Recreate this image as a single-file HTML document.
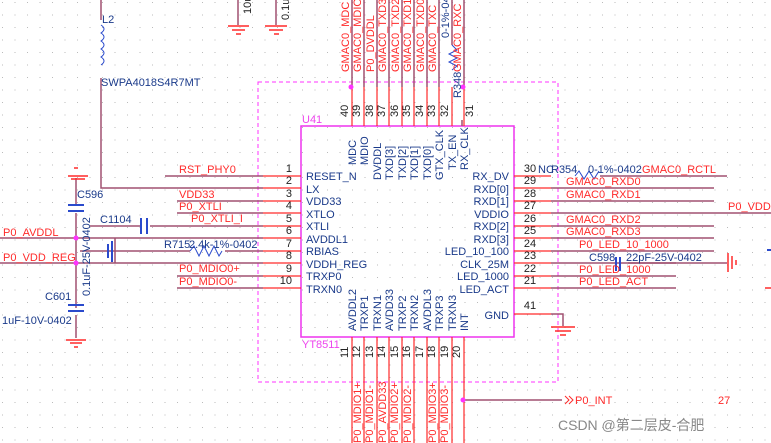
<!DOCTYPE html>
<html><head><meta charset="utf-8"><style>
html,body{margin:0;padding:0;background:#fff;}
svg{display:block;font-family:"Liberation Sans","Noto Sans CJK SC",sans-serif;}
.r{fill:#ff2a2a;font-size:11px}
.b{fill:#1a3a8a;font-size:11px}
.k{fill:#222;font-size:11px}
</style></head><body>
<svg width="771" height="443" viewBox="0 0 771 443" xmlns="http://www.w3.org/2000/svg">
<defs><pattern id="g" width="12.5" height="12.5" patternUnits="userSpaceOnUse" x="2" y="2"><rect width="1" height="1" fill="#bbb"/></pattern></defs>
<rect width="771" height="443" fill="#fff"/>
<rect width="771" height="443" fill="url(#g)"/>
<!-- dashed box -->
<rect x="258" y="82" width="300" height="300" fill="none" stroke="#ff33ff" stroke-dasharray="4,3"/>
<!-- chip -->
<rect x="301" y="126" width="213" height="211" fill="none" stroke="#ee33ee" stroke-width="1.5"/>
<text x="302" y="123" fill="#ee44ee" font-size="11">U41</text>
<text x="302" y="348" fill="#ee44ee" font-size="11">YT8511</text>
<!-- left pins -->
<g stroke="#ff2a2a" stroke-width="1.2">
<line x1="263" y1="176" x2="301" y2="176"/><line x1="263" y1="188" x2="301" y2="188"/><line x1="263" y1="201" x2="301" y2="201"/><line x1="263" y1="213" x2="301" y2="213"/><line x1="263" y1="226" x2="301" y2="226"/><line x1="263" y1="238" x2="301" y2="238"/><line x1="263" y1="251" x2="301" y2="251"/><line x1="263" y1="263" x2="301" y2="263"/><line x1="263" y1="276" x2="301" y2="276"/><line x1="263" y1="288" x2="301" y2="288"/>
</g>
<g stroke="#a05070" stroke-width="1.5" fill="none">
<line x1="165" y1="176" x2="263" y2="176"/>
<polyline points="101,0 101,20"/>
<polyline points="101,78 101,188 263,188"/>
<line x1="177" y1="201" x2="263" y2="201"/><line x1="177" y1="213" x2="263" y2="213"/>
<line x1="90" y1="226" x2="140" y2="226"/><line x1="150" y1="226" x2="263" y2="226"/>
<line x1="0" y1="238" x2="263" y2="238"/>
<line x1="80" y1="251" x2="190" y2="251"/><line x1="225" y1="251" x2="263" y2="251"/>
<line x1="0" y1="263" x2="263" y2="263"/>
<line x1="115" y1="238" x2="115" y2="263"/>
<line x1="177" y1="276" x2="263" y2="276"/><line x1="177" y1="288" x2="263" y2="288"/>
<line x1="76" y1="178" x2="76" y2="205"/><line x1="76" y1="213" x2="76" y2="308"/><line x1="76" y1="315" x2="76" y2="338"/>
</g>
<!-- inductor -->
<path d="M101,25 q6,4 0,8 q6,4 0,8 q6,4 0,8 q6,4 0,8 q6,4 0,8" fill="none" stroke="#2a4acc"/>
<text x="102" y="23" class="b">L2</text>
<text x="101" y="86" class="b">SWPA4018S4R7MT</text>
<!-- caps -->
<g stroke="#2a4acc" stroke-width="2"><line x1="68" y1="205" x2="84" y2="205"/><line x1="68" y1="211" x2="84" y2="211"/>
<line x1="68" y1="305" x2="84" y2="305"/><line x1="68" y1="311" x2="84" y2="311"/>
<line x1="141" y1="218" x2="141" y2="234"/><line x1="147" y1="218" x2="147" y2="234"/>
<line x1="108" y1="244" x2="108" y2="258"/><line x1="112" y1="241" x2="112" y2="262"/></g>
<g stroke="#ff2a2a" stroke-width="1.5"><line x1="68" y1="176" x2="88" y2="176"/><line x1="71" y1="179" x2="85" y2="179"/><line x1="74" y1="168" x2="78" y2="168"/>
<line x1="66" y1="340" x2="86" y2="340"/><line x1="70" y1="343" x2="82" y2="343"/><line x1="74" y1="347" x2="78" y2="347"/></g>
<circle cx="76" cy="238" r="2.5" fill="#ff33ff"/><circle cx="76" cy="263" r="2.5" fill="#ff33ff"/>
<text x="77" y="198" class="b">C596</text>
<text x="100" y="223" class="b">C1104</text>
<text x="45" y="300" class="b">C601</text>
<text x="2" y="324" class="b">1uF-10V-0402</text>
<text transform="translate(90,296) rotate(-90)" class="b">0.1uF-25V-0402</text>
<text x="3" y="236" class="r">P0_AVDDL</text>
<text x="3" y="261" class="r">P0_VDD_REG</text>
<text x="179" y="173" class="r">RST_PHY0</text>
<text x="179" y="198" class="r">VDD33</text>
<text x="179" y="210" class="r">P0_XTLI</text>
<text x="191" y="222" class="r">P0_XTLI_I</text>
<text x="179" y="272" class="r">P0_MDIO0+</text>
<text x="179" y="285" class="r">P0_MDIO0-</text>
<path d="M190,251 l4,-5 l5,10 l5,-10 l5,10 l5,-10 l5,10 l3,-5" fill="none" stroke="#2a4acc"/>
<text x="164" y="248" class="b">R715</text><text x="189" y="248" class="b">2.4k-1%-0402</text>
<g class="k" text-anchor="end"><text x="292" y="172">1</text><text x="292" y="184">2</text><text x="292" y="197">3</text><text x="292" y="209">4</text><text x="292" y="222">5</text><text x="292" y="234">6</text><text x="292" y="247">7</text><text x="292" y="259">8</text><text x="292" y="272">9</text><text x="292" y="284">10</text></g>
<g class="b"><text x="306" y="180">RESET_N</text><text x="306" y="193">LX</text><text x="306" y="205">VDD33</text><text x="306" y="218">XTLO</text><text x="306" y="230">XTLI</text><text x="306" y="243">AVDDL1</text><text x="306" y="255">RBIAS</text><text x="306" y="268">VDDH_REG</text><text x="306" y="280">TRXP0</text><text x="306" y="293">TRXN0</text></g>
<!-- right side -->
<g class="b" text-anchor="end"><text x="509" y="180">RX_DV</text><text x="509" y="193">RXD[0]</text><text x="509" y="205">RXD[1]</text><text x="509" y="218">VDDIO</text><text x="509" y="230">RXD[2]</text><text x="509" y="243">RXD[3]</text><text x="509" y="255">LED_10_100</text><text x="509" y="268">CLK_25M</text><text x="509" y="280">LED_1000</text><text x="509" y="293">LED_ACT</text><text x="509" y="319">GND</text></g>
<g stroke="#ff2a2a" stroke-width="1.2"><line x1="514" y1="176" x2="551" y2="176"/><line x1="514" y1="188" x2="551" y2="188"/><line x1="514" y1="201" x2="551" y2="201"/><line x1="514" y1="213" x2="551" y2="213"/><line x1="514" y1="226" x2="551" y2="226"/><line x1="514" y1="238" x2="551" y2="238"/><line x1="514" y1="251" x2="551" y2="251"/><line x1="514" y1="263" x2="551" y2="263"/><line x1="514" y1="276" x2="551" y2="276"/><line x1="514" y1="288" x2="551" y2="288"/><line x1="514" y1="314" x2="551" y2="314"/></g>
<g stroke="#a05070" stroke-width="1.5" fill="none"><line x1="600" y1="176" x2="727" y2="176"/><line x1="551" y1="188" x2="714" y2="188"/><line x1="551" y1="201" x2="714" y2="201"/><line x1="551" y1="213" x2="771" y2="213"/><line x1="551" y1="226" x2="714" y2="226"/><line x1="551" y1="238" x2="714" y2="238"/><line x1="551" y1="251" x2="714" y2="251"/><line x1="551" y1="263" x2="676" y2="263"/><line x1="551" y1="276" x2="676" y2="276"/><line x1="551" y1="288" x2="676" y2="288"/>
<line x1="628" y1="263" x2="727" y2="263"/><polyline points="551,314 563,314 563,326"/><line x1="462" y1="120" x2="462" y2="126"/></g>
<g stroke="#ff2a2a" stroke-width="1.5"><line x1="551" y1="327" x2="575" y2="327"/><line x1="555" y1="331" x2="571" y2="331"/><line x1="560" y1="335" x2="566" y2="335"/><line x1="728" y1="253" x2="728" y2="272"/><line x1="732" y1="256" x2="732" y2="269"/><line x1="736" y1="260" x2="736" y2="265"/><line x1="765" y1="288" x2="771" y2="288"/></g>
<g stroke="#2a4acc" stroke-width="2"><line x1="616" y1="257" x2="616" y2="271"/><line x1="620" y1="257" x2="620" y2="271"/><line x1="767" y1="250" x2="771" y2="250"/></g>
<path d="M575,176 l4,-5 l5,8 l5,-8 l5,8 l5,-8" fill="none" stroke="#2a4acc"/>
<g class="k" text-anchor="middle"><text x="530" y="172">30</text><text x="530" y="184">29</text><text x="530" y="197">28</text><text x="530" y="209">27</text><text x="530" y="222">26</text><text x="530" y="234">25</text><text x="530" y="247">24</text><text x="530" y="259">23</text><text x="530" y="272">22</text><text x="530" y="284">21</text><text x="530" y="309">41</text></g>
<text x="538" y="173" class="b" font-size="9">NC</text><text x="551" y="173" class="b">R354</text><text x="588" y="173" class="b">0-1%-0402</text>
<text x="642" y="173" class="r">GMAC0_RCTL</text>
<text x="566" y="185" class="r">GMAC0_RXD0</text><text x="566" y="198" class="r">GMAC0_RXD1</text>
<text x="728" y="210" class="r">P0_VDD</text>
<text x="566" y="223" class="r">GMAC0_RXD2</text><text x="566" y="235" class="r">GMAC0_RXD3</text>
<text x="579" y="248" class="r">P0_LED_10_1000</text>
<text x="589" y="261" class="b">C598</text><text x="626" y="261" class="b">22pF-25V-0402</text>
<text x="579" y="273" class="r">P0_LED_1000</text><text x="579" y="285" class="r">P0_LED_ACT</text>
<!-- top pins -->
<g stroke="#ff2a2a" stroke-width="1.2"><line x1="352" y1="87" x2="352" y2="126"/><line x1="364" y1="87" x2="364" y2="126"/><line x1="377" y1="87" x2="377" y2="126"/><line x1="389" y1="87" x2="389" y2="126"/><line x1="402" y1="87" x2="402" y2="126"/><line x1="414" y1="87" x2="414" y2="126"/><line x1="427" y1="87" x2="427" y2="126"/><line x1="439" y1="87" x2="439" y2="126"/><line x1="452" y1="87" x2="452" y2="126"/><line x1="464" y1="87" x2="464" y2="126"/></g>
<g stroke="#a05070" stroke-width="1.5"><line x1="352" y1="0" x2="352" y2="87"/><line x1="364" y1="0" x2="364" y2="87"/><line x1="377" y1="0" x2="377" y2="87"/><line x1="389" y1="0" x2="389" y2="87"/><line x1="402" y1="0" x2="402" y2="87"/><line x1="414" y1="0" x2="414" y2="87"/><line x1="427" y1="0" x2="427" y2="87"/><line x1="439" y1="0" x2="439" y2="87"/><line x1="452" y1="0" x2="452" y2="45"/><line x1="464" y1="0" x2="464" y2="87"/></g>
<path d="M452,45 l5,5 l-8,4 l8,4 l-8,4 l8,4 l-5,4" fill="none" stroke="#2a4acc"/>
<circle cx="351" cy="87" r="2.5" fill="#ff33ff"/><circle cx="463" cy="87" r="2.5" fill="#ff33ff"/>
<g class="r"><text transform="translate(349,72) rotate(-90)">GMAC0_MDC</text><text transform="translate(361,72) rotate(-90)">GMAC0_MDIO</text><text transform="translate(374,72) rotate(-90)">P0_DVDDL</text><text transform="translate(386,72) rotate(-90)">GMAC0_TXD3</text><text transform="translate(399,72) rotate(-90)">GMAC0_TXD2</text><text transform="translate(411,72) rotate(-90)">GMAC0_TXD1</text><text transform="translate(424,72) rotate(-90)">GMAC0_TXD0</text><text transform="translate(436,72) rotate(-90)">GMAC0_TXC</text><text transform="translate(461,72) rotate(-90)">GMAC0_RXC</text></g>
<text transform="translate(449,38) rotate(-90)" class="b">0-1%-04</text>
<text transform="translate(461,98) rotate(-90)" class="b">R348</text>
<g class="k"><text transform="translate(348,117) rotate(-90)">40</text><text transform="translate(360,117) rotate(-90)">39</text><text transform="translate(373,117) rotate(-90)">38</text><text transform="translate(385,117) rotate(-90)">37</text><text transform="translate(398,117) rotate(-90)">36</text><text transform="translate(410,117) rotate(-90)">35</text><text transform="translate(423,117) rotate(-90)">34</text><text transform="translate(435,117) rotate(-90)">33</text><text transform="translate(448,117) rotate(-90)">32</text><text transform="translate(473,117) rotate(-90)">31</text></g>
<g class="b"><text transform="translate(356,165) rotate(-90)">MDC</text><text transform="translate(368,165) rotate(-90)">MDIO</text><text transform="translate(381,180) rotate(-90)">DVDDL</text><text transform="translate(393,180) rotate(-90)">TXD[3]</text><text transform="translate(406,180) rotate(-90)">TXD[2]</text><text transform="translate(418,180) rotate(-90)">TXD[1]</text><text transform="translate(431,180) rotate(-90)">TXD[0]</text><text transform="translate(443,180) rotate(-90)">GTX_CLK</text><text transform="translate(456,170) rotate(-90)">TX_EN</text><text transform="translate(468,170) rotate(-90)">RX_CLK</text></g>
<!-- bottom pins -->
<g class="b"><text transform="translate(356,331) rotate(-90)">AVDDL2</text><text transform="translate(368,331) rotate(-90)">TRXP1</text><text transform="translate(381,331) rotate(-90)">TRXN1</text><text transform="translate(393,331) rotate(-90)">AVDD33</text><text transform="translate(406,331) rotate(-90)">TRXP2</text><text transform="translate(418,331) rotate(-90)">TRXN2</text><text transform="translate(431,331) rotate(-90)">AVDDL3</text><text transform="translate(443,331) rotate(-90)">TRXP3</text><text transform="translate(456,331) rotate(-90)">TRXN3</text><text transform="translate(468,331) rotate(-90)">INT</text></g>
<g stroke="#ff2a2a" stroke-width="1.2"><line x1="352" y1="337" x2="352" y2="443"/><line x1="364" y1="337" x2="364" y2="443"/><line x1="377" y1="337" x2="377" y2="443"/><line x1="389" y1="337" x2="389" y2="443"/><line x1="402" y1="337" x2="402" y2="443"/><line x1="414" y1="337" x2="414" y2="443"/><line x1="427" y1="337" x2="427" y2="443"/><line x1="439" y1="337" x2="439" y2="443"/><line x1="452" y1="337" x2="452" y2="443"/><line x1="464" y1="337" x2="464" y2="443"/></g>
<g class="k"><text transform="translate(348,358) rotate(-90)">11</text><text transform="translate(360,358) rotate(-90)">12</text><text transform="translate(373,358) rotate(-90)">13</text><text transform="translate(385,358) rotate(-90)">14</text><text transform="translate(398,358) rotate(-90)">15</text><text transform="translate(410,358) rotate(-90)">16</text><text transform="translate(423,358) rotate(-90)">17</text><text transform="translate(435,358) rotate(-90)">18</text><text transform="translate(448,358) rotate(-90)">19</text><text transform="translate(460,358) rotate(-90)">20</text></g>
<g class="r"><text transform="translate(361,443) rotate(-90)">P0_MDIO1+</text><text transform="translate(373,443) rotate(-90)">P0_MDIO1-</text><text transform="translate(386,443) rotate(-90)">P0_AVDD33</text><text transform="translate(398,443) rotate(-90)">P0_MDIO2+</text><text transform="translate(411,443) rotate(-90)">P0_MDIO2-</text><text transform="translate(436,443) rotate(-90)">P0_MDIO3+</text><text transform="translate(448,443) rotate(-90)">P0_MDIO3-</text></g>
<line x1="464" y1="400" x2="562" y2="400" stroke="#a05070" stroke-width="1.5"/>
<circle cx="463" cy="400" r="2.5" fill="#ff33ff"/>
<path d="M565,396 l4,4 l-4,4 M569,396 l4,4 l-4,4" fill="none" stroke="#ff2a2a"/>
<text x="575" y="404" class="r">P0_INT</text><text x="718" y="404" class="r">27</text>
<text x="558" y="430" fill="#888" font-size="14">CSDN @第二层皮-合肥</text>
<!-- top caps -->
<g stroke="#a05070" stroke-width="1.5"><line x1="238" y1="0" x2="238" y2="25"/><line x1="276" y1="0" x2="276" y2="25"/></g>
<g stroke="#ff2a2a" stroke-width="1.5"><line x1="228" y1="26" x2="249" y2="26"/><line x1="232" y1="30" x2="245" y2="30"/><line x1="236" y1="34" x2="241" y2="34"/><line x1="265" y1="26" x2="287" y2="26"/><line x1="269" y1="30" x2="283" y2="30"/><line x1="274" y1="34" x2="279" y2="34"/></g>
<text transform="translate(251,14) rotate(-90)" class="k" font-size="10">10u</text><text transform="translate(289,20) rotate(-90)" class="k" font-size="10">0.1u</text>
</svg>
</body></html>
